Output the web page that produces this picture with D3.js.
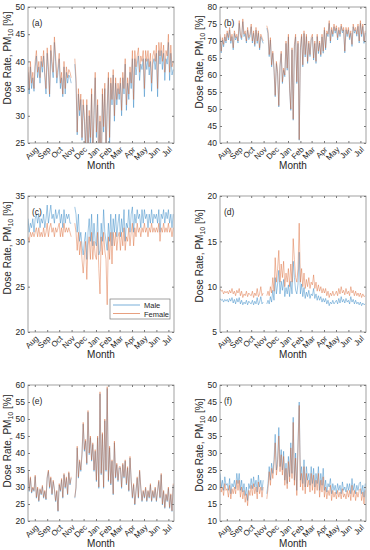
<!DOCTYPE html>
<html>
<head>
<meta charset="utf-8">
<script src="https://cdn.jsdelivr.net/npm/d3@7"></script>
<style>
body { margin: 0; background: #fff; }
svg text { font-family: "Liberation Sans", Arial, sans-serif; fill: #262626; }
</style>
</head>
<body>
<div id="chart-area"></div>
<script>
// samples every 3 days from 15 Jul 2018, null = missing days
const startDate = new Date(2018, 6, 15);
const endDate = new Date(2019, 6, 15);
const stepDays = 3;
const monthLabels = ["Aug", "Sep", "Oct", "Nov", "Dec", "Jan", "Feb", "Mar", "Apr", "May", "Jun", "Jul"];
const seriesNames = ["Male", "Female"];
const seriesColors = ["#1f7bbf", "#d9602a"];

const aMale = [38, 34, 39, 35, 37, 34.5,
    39, 41, 37, 39, 36, 40, 38, 41, 37, 34,
    41.5, 38, 33.5, 42, 39, 37, 43.5, 40, 36, 38,
    40.5, 35, 37, 33.5, 39, 34, 38, 36, 37.5, 37,
    36, null, null, 39.5, 36, 26.5, 34, 30, 33, 25.5, 32,
    29, 23, 32, 22, 30, 25, 34, 21, 30, 37,
    26, 32, 20, 29, 18, 34, 27, 35, 22, 31,
    37, 25, 36, 32, 37.5, 29, 36, 32, 35, 33,
    36, 30, 37, 34, 39.5, 31, 36, 33, 38, 35,
    40.5, 31.5, 40.5, 37.5, 39.5, 41, 36.5, 39.5, 38.5, 40.5,
    33.5, 40.5, 38.5, 40.5, 37.5, 40, 34.5, 39.5, 40.5, 38.5,
    41.5, 33.5, 42, 39.5, 42, 38.5, 41.5, 36.5, 40.5, 39.5,
    43.5, 36.5, 41.5, 37.5, 38.5];
const aFemale = [39, 35, 40, 36, 38, 35,
    40, 42, 38, 40, 37, 41, 39, 42, 38, 35,
    42.5, 39, 34, 43, 40, 38, 44.5, 41, 37, 39,
    41.5, 36, 38, 34, 40, 35, 39, 37, 38.5, 38,
    37, null, null, 40.5, 37, 27, 35, 31, 34, 26, 33,
    30, 24, 33, 23, 31, 26, 35, 22, 31, 38,
    27, 33, 21, 30, 19, 35, 28, 36, 23, 32,
    38, 26, 37, 33, 38.5, 30, 37, 33, 36, 34,
    37, 31, 38, 35, 40.5, 32, 37, 34, 39, 36,
    42, 33, 42, 39, 41, 42.5, 38, 41, 40, 42,
    35, 42, 40, 42, 39, 41.5, 36, 41, 42, 40,
    43, 35, 43.5, 41, 43.5, 40, 43, 38, 42, 41,
    45, 38, 43, 39, 40];

const bMale = [71.3, 66.5, 70.3, 68.3, 71.2, 69.4,
    72.3, 70.3, 73.2, 69.3, 71.3, 67.4, 72.2, 70.3, 71.3, 69.4,
    75.2, 71.3, 70.4, 75.7, 71.3, 72.2, 69.4, 73.2, 70.4, 71.3,
    74.2, 69.4, 72.3, 68.4, 73.2, 69.3, 72.3, 67.4, 71.3, 70.3,
    69.3, null, null, 73.8, 72.2, 65.4, 70.3, 62.4, 66.4, 61.5, 53.6,
    63.4, 60.4, 50.6, 62.4, 66.3, 57.5, 61.4, 59.5, 69.3, 61.4,
    71.2, 55.6, 49.6, 67.4, 46.7, 68.3, 71.2, 57.5, 69.3, 40.8,
    67.3, 71.3, 62.4, 72.2, 65.3, 71.3, 63.4, 69.3, 65.4, 70.3,
    71.2, 64.4, 69.3, 63.4, 71.3, 66.3, 69.4, 65.4, 71.2, 66.4,
    73.2, 67.4, 72.3, 71.3, 75.2, 69.4, 73.3, 71.3, 74.2, 72.3,
    73.8, 70.3, 73.2, 71.3, 74.3, 72.4, 73.3, 66.5, 73.3, 71.3,
    73.3, 70.4, 72.3, 68.4, 74.2, 72.3, 73.3, 71.4, 74.3, 69.4,
    75.2, 71.3, 74.3, 69.3, 72.4];
const bFemale = [72, 67, 71, 69, 72, 70,
    73, 71, 74, 70, 72, 68, 73, 71, 72, 70,
    76, 72, 71, 76.5, 72, 73, 70, 74, 71, 72,
    75, 70, 73, 69, 74, 70, 73, 68, 72, 71,
    70, null, null, 74.5, 73, 66, 71, 63, 67, 62, 54,
    64, 61, 51, 63, 67, 58, 62, 60, 70, 62,
    72, 56, 50, 68, 47, 69, 72, 58, 70, 41,
    68, 72, 63, 73, 66, 72, 64, 70, 66, 71,
    72, 65, 70, 64, 72, 67, 70, 66, 72, 67,
    74, 68, 73, 72, 76, 70, 74, 72, 75, 73,
    74.5, 71, 74, 72, 75, 73, 74, 67, 74, 72,
    74, 71, 73, 69, 75, 73, 74, 72, 75, 70,
    76, 72, 75, 70, 73];

const cMale = [32.5, 31, 32, 31.5, 32.5, 31,
    32.5, 33, 32, 33, 31.5, 32.5, 32, 33, 31.5, 32.5,
    34, 32, 33, 34, 32.5, 33, 32, 33.5, 32.5, 33,
    33.5, 32, 33, 31.5, 33.5, 32, 33, 32.5, 33, 32,
    32, null, null, 33.8, 33, 31, 33, 30, 31, 29.5, 28.5,
    30, 31, 28, 31, 32.5, 30, 33, 29.5, 32, 30,
    29.5, 33, 28.5, 29, 32, 30, 33.5, 31, 30, 29,
    32, 30, 33, 29.5, 32.5, 31, 33, 30.5, 32, 33,
    30.5, 32.5, 31, 33.5, 30, 32, 31.5, 33.5, 31, 33,
    33.8, 31, 33, 32, 33.5, 32.5, 33, 31.5, 33.5, 32,
    33.5, 32.5, 33, 31.5, 33, 32, 33.5, 32, 33, 32.5,
    33, 32, 33.5, 31, 33, 32.5, 33.5, 32, 33.2, 32.5,
    33.5, 32, 33, 31.5, 33];
const cFemale = [30.5, 30, 31, 30.5, 31, 30.5,
    31, 31.5, 30.5, 31.5, 30.5, 31, 30.5, 31.5, 30.5, 31,
    32, 30.5, 31.5, 32, 31, 31.5, 30.5, 31.5, 31, 31.5,
    32, 30.5, 31.5, 30.5, 32, 31, 31.5, 31, 31.5, 31,
    30.5, null, null, 32, 31, 29, 31, 28.5, 30, 28, 26.5,
    28.5, 30, 25.8, 29.5, 30.5, 28, 31, 28, 30, 28.5,
    28, 31, 27, 24.2, 30.5, 28.5, 31, 29, 28, 23,
    30.5, 28, 31, 27.5, 31, 29.5, 31, 29, 30.5, 31,
    29, 31, 29.5, 31.5, 29, 30.5, 30, 31.5, 29.5, 31,
    32, 29.5, 31.5, 30.5, 32, 31, 31.5, 30.5, 31.5, 31,
    32, 31, 31.5, 30.5, 31.5, 31, 32, 31, 31.5, 31,
    31.5, 31, 32, 30, 31.5, 31, 32, 31, 31.5, 31,
    32, 31, 31.5, 30.5, 31.5];

const dMale = [8.7, 8.5, 8.6, 8.3, 8.6, 8.4,
    8.6, 8.3, 8.7, 8.4, 8.8, 8.2, 8.6, 8.1, 8.7, 8.3,
    8.8, 8.1, 8.5, 8.0, 8.3, 8.1, 8.5, 8.0, 8.4, 8.2,
    8.1, 8.5, 8.0, 8.4, 8.1, 8.8, 8.0, 8.3, 8.9, 8.1,
    8.3, null, null, 8.1, 8.5, 8.1, 8.9, 8.3, 9.6, 8.5, 11.0,
    9.2, 10.3, 11.8, 9.2, 10.6, 9.6, 10.8, 8.9, 9.9, 9.2,
    10.2, 8.9, 10.6, 9.2, 12.8, 11.0, 9.6, 9.2, 10.3, 13.8,
    9.2, 10.3, 8.9, 9.9, 8.7, 9.4, 8.9, 9.6, 8.7, 9.2,
    9.0, 9.8, 8.7, 9.2, 8.5, 9.0, 8.5, 8.9, 8.3, 8.7,
    8.3, 8.7, 8.1, 8.5, 7.9, 8.3, 8.1, 8.5, 8.1, 8.3,
    8.5, 8.1, 8.7, 8.2, 8.9, 8.3, 8.6, 8.2, 8.7, 8.3,
    8.5, 8.1, 8.9, 8.3, 8.6, 8.1, 8.5, 8.1, 8.3, 8.0,
    8.3, 7.9, 8.2, 8.0, 8.1];
const dFemale = [9.8, 9.5, 9.6, 9.2, 9.5, 9.3,
    9.5, 9.2, 9.6, 9.3, 9.8, 9.2, 9.5, 9.0, 9.6, 9.3,
    9.8, 9.0, 9.5, 8.8, 9.2, 9.0, 9.5, 8.9, 9.3, 9.1,
    9.0, 9.5, 8.8, 9.3, 9.0, 9.8, 8.9, 9.2, 10.0, 9.0,
    9.3, null, null, 9.0, 9.5, 9.0, 10.0, 9.3, 11.0, 9.5, 13.2,
    10.5, 12, 14.0, 10.5, 12.5, 11, 12.8, 10, 11.5, 10.5,
    12.0, 10, 12.5, 10.5, 15.3, 13, 11, 10.5, 12, 17.0,
    10.5, 12, 10, 11.5, 9.8, 10.8, 10, 11.0, 9.8, 10.5,
    10.2, 11.3, 9.8, 10.5, 9.5, 10.2, 9.5, 10.0, 9.3, 9.8,
    9.3, 9.8, 9.0, 9.5, 8.8, 9.3, 9.0, 9.5, 9.0, 9.2,
    9.5, 9.0, 9.8, 9.2, 10.0, 9.3, 9.6, 9.1, 9.8, 9.2,
    9.5, 9.0, 10.0, 9.3, 9.6, 9.0, 9.5, 9.0, 9.3, 8.9,
    9.3, 8.8, 9.2, 8.9, 9.0];

const eMale = [34.6, 28.7, 32.6, 28.2, 29.7, 28.7,
    33.1, 26.7, 29.6, 25.7, 29.2, 27.7, 30.1, 26.7, 28.7, 26.2,
    32.6, 34.6, 29.6, 32.6, 27.7, 31.6, 29.2, 25.7, 28.7, 22.8,
    30.6, 28.7, 32.1, 26.7, 33.6, 29.6, 32.6, 27.7, 34.1, 30.6,
    32.6, null, null, 26.7, 29.6, 41.5, 32.6, 37.5, 34.6, 39.5, 48.5,
    40.5, 43.5, 36.6, 52, 39.5, 44.5, 37.6, 42.5, 34.6, 40.5,
    31.6, 44.5, 29.6, 57.4, 33.6, 45.5, 29.6, 49.5, 34.6, 59,
    31.6, 41.5, 30.6, 37.6, 27.7, 43, 32.6, 36.6, 31.6, 35.6,
    35.6, 29.6, 36.6, 32.6, 37.6, 30.6, 35.6, 28.7, 38.5, 31.6,
    26.7, 30.6, 24.7, 28.7, 32.6, 26.7, 34.6, 29.6, 25.7, 28.7,
    26.7, 29.6, 25.7, 28.7, 26.7, 30.6, 25.7, 28.7, 26.7, 29.6,
    25.7, 28.7, 31.6, 26.7, 33.6, 24.7, 28.7, 23.7, 27.7, 25.7,
    29.6, 23.7, 27.7, 22.8, 30.6];
const eFemale = [35, 29, 33, 28.5, 30, 29,
    33.5, 27, 30, 26, 29.5, 28, 30.5, 27, 29, 26.5,
    33, 35, 30, 33, 28, 32, 29.5, 26, 29, 23,
    31, 29, 32.5, 27, 34, 30, 33, 28, 34.5, 31,
    33, null, null, 27, 30, 42, 33, 38, 35, 40, 49,
    41, 44, 37, 52.5, 40, 45, 38, 43, 35, 41,
    32, 45, 30, 58, 34, 46, 30, 50, 35, 59.5,
    32, 42, 31, 38, 28, 43.5, 33, 37, 32, 36,
    36, 30, 37, 33, 38, 31, 36, 29, 39, 32,
    27, 31, 25, 29, 33, 27, 35, 30, 26, 29,
    27, 30, 26, 29, 27, 31, 26, 29, 27, 30,
    26, 29, 32, 27, 34, 25, 29, 24, 28, 26,
    30, 24, 28, 23, 31];

const fMale = [24, 20, 22, 19, 23, 20.5,
    21, 19, 22.5, 18, 21, 20, 22, 19.5, 24, 21,
    24, 19, 22, 18.5, 21, 17.5, 20, 16, 21, 19.5,
    22.5, 19.5, 23, 20, 22, 18.5, 23.5, 20, 22, 19,
    22, null, null, 18, 21, 26, 22, 27, 24, 28, 35.5,
    25, 28, 37.5, 26, 31, 25, 30.5, 22, 27, 21,
    29, 23, 33, 24, 40.5, 22, 30, 19, 33, 45,
    22, 26, 21, 28, 20, 26, 22, 24, 20.5, 26,
    21, 25.5, 20, 24, 21, 26, 19, 24, 20.5, 25.5,
    19, 22, 18.5, 21, 20, 22.5, 18, 21, 19, 20.5,
    18, 21, 19, 20.5, 18, 21.5, 19, 20, 18.5, 21,
    19, 21, 18, 22.5, 19, 21, 18, 20.5, 19, 21,
    21.5, 18, 20.5, 17, 21];
const fFemale = [22, 18.5, 20, 17.5, 21, 19,
    19.5, 17, 20.5, 16.5, 19.5, 18, 20, 18, 22, 19,
    22, 17, 20, 16.5, 19, 15.5, 18, 14.5, 19, 17.5,
    20.5, 17.5, 21, 18, 20, 16.5, 21.5, 18, 20, 17,
    20, null, null, 16.5, 19.5, 24.5, 20.5, 25.5, 22.5, 26.5, 33,
    23.5, 26.5, 35, 24.5, 29.5, 23.5, 29, 20.5, 25.5, 19.5,
    27.5, 21.5, 31.5, 22.5, 39, 20.5, 28.5, 17.5, 31.5, 44,
    20, 24, 19, 26, 18, 24, 20, 22, 18.5, 24,
    19, 23.5, 18, 22, 19, 24, 17, 22, 18.5, 23,
    17, 20, 16.5, 19, 17.5, 20.5, 16, 19, 17, 18.5,
    16.5, 19, 17, 18.5, 16.5, 19.5, 17, 18, 16.5, 19,
    17, 19, 16, 20.5, 17, 19, 16, 18.5, 17, 19,
    19.5, 16, 18.5, 15, 19];

const panels = [
    {label: "(a)", male: aMale, female: aFemale, yDomain: [25, 50], left: 28, top: 7, yLabelY: 58},
    {label: "(b)", male: bMale, female: bFemale, yDomain: [40, 80], left: 220, top: 7, yLabelY: 62},
    {label: "(c)", male: cMale, female: cFemale, yDomain: [20, 35], left: 28, top: 196, yLabelY: 248, legend: true},
    {label: "(d)", male: dMale, female: dFemale, yDomain: [5, 20], left: 220, top: 196, yLabelY: 256},
    {label: "(e)", male: eMale, female: eFemale, yDomain: [20, 60], left: 28, top: 385, yLabelY: 441},
    {label: "(f)", male: fMale, female: fFemale, yDomain: [10, 50], left: 220, top: 385, yLabelY: 445}
];

const width = 146;
const height = 136;
const axisColor = "#7a7a7a";

const svg = d3.select("#chart-area")
    .append("svg")
    .attr("width", 370)
    .attr("height", 550);

const dates = aMale.map((v, i) => d3.timeDay.offset(startDate, i * stepDays));
const tickDates = d3.timeMonth.range(new Date(2018, 7, 1), new Date(2019, 7, 1));

const x = d3.scaleTime()
    .domain([startDate, endDate])
    .range([0, width]);

panels.forEach((p, pi) => {
    const g = svg.append("g")
        .attr("transform", "translate(" + p.left + "," + p.top + ")");

    const y = d3.scaleLinear()
        .domain(p.yDomain)
        .range([height, 0]);

    // clip lines to the plot box
    const clipId = "clip" + pi;
    g.append("clipPath")
        .attr("id", clipId)
        .append("rect")
        .attr("width", width)
        .attr("height", height);

    const line = d3.line()
        .defined(d => d.v !== null)
        .x(d => x(d.date))
        .y(d => y(d.v));

    [p.male, p.female].forEach((vals, si) => {
        g.append("path")
            .datum(vals.map((v, i) => ({date: dates[i], v: v})))
            .attr("clip-path", "url(#" + clipId + ")")
            .attr("fill", "none")
            .attr("stroke", seriesColors[si])
            .attr("stroke-width", 0.5)
            .attr("stroke-opacity", 0.85)
            .attr("stroke-linejoin", "round")
            .attr("d", line);
    });

    // box
    g.append("rect")
        .attr("width", width)
        .attr("height", height)
        .attr("fill", "none")
        .attr("stroke", axisColor)
        .attr("stroke-width", 0.7);

    // y axis, ticks inside
    const yTicks = d3.range(p.yDomain[0], p.yDomain[1] + 1, 5);
    const yAxis = g.append("g")
        .call(d3.axisLeft(y).tickValues(yTicks).tickSize(-2).tickPadding(3));
    yAxis.select(".domain").remove();
    yAxis.selectAll("line").attr("stroke", axisColor);
    yAxis.selectAll("text")
        .attr("font-size", 8.5)
        .attr("font-family", null);

    // right side ticks
    g.append("g")
        .attr("transform", "translate(" + width + ",0)")
        .call(d3.axisRight(y).tickValues(yTicks).tickSize(-2).tickFormat(""))
        .call(a => a.select(".domain").remove())
        .selectAll("line").attr("stroke", axisColor);

    // x axis ticks inside, labels rotated
    const xAxis = g.append("g")
        .attr("transform", "translate(0," + height + ")")
        .call(d3.axisBottom(x).tickValues(tickDates).tickSize(-2).tickFormat(""));
    xAxis.select(".domain").remove();
    xAxis.selectAll("line").attr("stroke", axisColor);

    g.append("g")
        .call(d3.axisTop(x).tickValues(tickDates).tickSize(-2).tickFormat(""))
        .call(a => a.select(".domain").remove())
        .selectAll("line").attr("stroke", axisColor);

    g.selectAll(".month")
        .data(tickDates)
        .enter()
        .append("text")
        .attr("class", "month")
        .attr("transform", d => "translate(" + (x(d) + 2) + "," + (height + 5) + ") rotate(-45)")
        .attr("text-anchor", "end")
        .attr("dy", "0.35em")
        .attr("font-size", 8)
        .text((d, i) => monthLabels[i]);

    // axis titles
    g.append("text")
        .attr("x", width / 2)
        .attr("y", height + 26)
        .attr("text-anchor", "middle")
        .attr("font-size", 10)
        .text("Month");

    const yLab = svg.append("text")
        .attr("transform", "translate(" + (p.left - 17) + "," + p.yLabelY + ") rotate(-90)")
        .attr("text-anchor", "middle")
        .attr("font-size", 10);
    yLab.append("tspan").text("Dose Rate, PM");
    yLab.append("tspan").attr("font-size", 7).attr("dy", 2).text("10");
    yLab.append("tspan").attr("dy", -2).text(" [%]");

    // panel letter
    g.append("text")
        .attr("x", 4)
        .attr("y", 19)
        .attr("font-size", 8.5)
        .text(p.label);

    if (p.legend) {
        const lg = g.append("g")
            .attr("transform", "translate(" + (110 - p.left) + "," + (299 - p.top) + ")");
        lg.append("rect")
            .attr("width", 60)
            .attr("height", 20)
            .attr("fill", "#fff")
            .attr("stroke", axisColor)
            .attr("stroke-width", 0.7);
        seriesNames.forEach((name, i) => {
            const yy = 6 + i * 8.5;
            lg.append("line")
                .attr("x1", 3).attr("x2", 30)
                .attr("y1", yy).attr("y2", yy)
                .attr("stroke", seriesColors[i])
                .attr("stroke-width", 0.6);
            lg.append("text")
                .attr("x", 34)
                .attr("y", yy + 3)
                .attr("font-size", 7.5)
                .text(name);
        });
    }
});
</script>
</body>
</html>
